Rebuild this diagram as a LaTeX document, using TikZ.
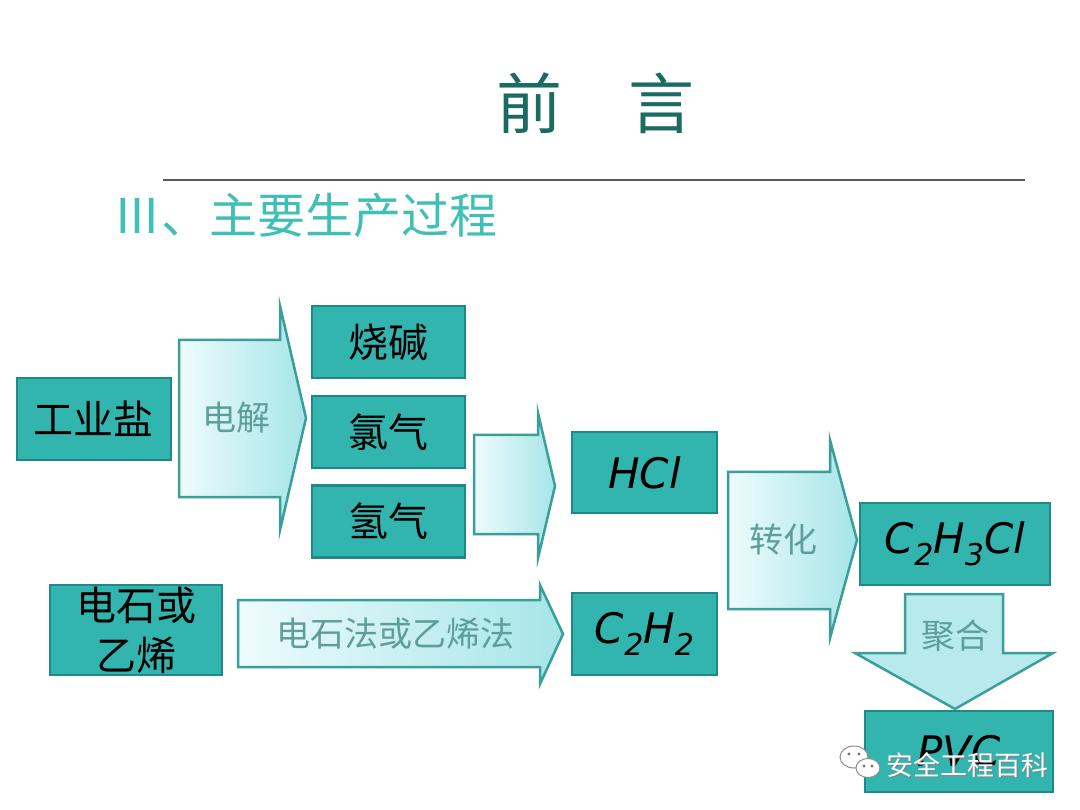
\documentclass[tikz,border=0pt]{standalone}
\usepackage{fontspec}
\newfontfamily\cjk{Noto Sans CJK SC}
\newfontfamily\formula{DejaVu Sans}
\definecolor{boxfill}{HTML}{33B5AF}
\definecolor{boxline}{HTML}{1F8A85}
\definecolor{flowline}{HTML}{3A9E99}
\definecolor{flowlight}{HTML}{EEFBFC}
\definecolor{flowdark}{HTML}{A6E5E8}
\definecolor{titlecol}{HTML}{1B6B62}
\definecolor{subcol}{HTML}{40BFB6}
\definecolor{labelcol}{HTML}{5E9E9A}
\def\sub#1{\raisebox{-0.28em}{\fontsize{30}{30}\selectfont #1}}
\tikzset{
	box/.style={draw=boxline,fill=boxfill,line width=2.5pt,inner sep=0pt,
		font=\cjk\fontsize{40}{50}\selectfont,align=center},
	chem/.style={box,font=\formula\itshape\fontsize{42}{42}\selectfont},
	flow/.style={draw=flowline,line width=2.5pt,line join=miter,
		left color=flowlight,right color=flowdark},
	flowdown/.style={draw=flowline,line width=2.5pt,line join=miter,
		left color=flowdark!80,middle color=flowlight,right color=flowdark!80},
	flowlabel/.style={text=labelcol,font=\cjk\fontsize{34}{34}\selectfont,inner sep=0pt},
	wmark/.style={text=white,font=\cjk\fontsize{27}{27}\selectfont,inner sep=0pt},
}
\begin{document}
\begin{tikzpicture}[x=1pt,y=-1pt]
\fill[white] (0,0) rectangle (1080,810);
\useasboundingbox (0,0) rectangle (1080,810);

% heading
\node (title) at (595,103) [text=titlecol,font=\cjk\fontsize{66}{66}\selectfont] {前　言};
\coordinate (rulel) at (163,180);
\coordinate (ruler) at (1025,180);
\draw[line width=2pt,black!65] (rulel) -- (ruler);
\node (sub) at (113,215) [anchor=west,inner sep=0pt,text=subcol,font=\cjk\fontsize{48}{48}\selectfont] {Ⅲ、主要生产过程};

% block arrows
\draw[flow] (179,340) -- (280,340) -- (280,306) -- (306,418) -- (280,530) -- (280,497) -- (179,497) -- cycle;
\draw[flow] (474,435) -- (538,435) -- (538,413) -- (555,486) -- (538,558) -- (538,534) -- (474,534) -- cycle;
\draw[flow] (238,600) -- (540,600) -- (540,585) -- (563,634) -- (540,684) -- (540,667) -- (238,667) -- cycle;
\draw[flow] (728,472) -- (830,472) -- (830,440) -- (857,540) -- (830,638) -- (830,609) -- (728,609) -- cycle;
\draw[flowdown] (905,594) -- (1003,594) -- (1003,653) -- (1053,653) -- (955,709) -- (855,653) -- (905,653) -- cycle;

\node (dianjie) at (236,418) [flowlabel] {电解};
\node (fa) at (395,634) [flowlabel] {电石法或乙烯法};
\node (zhuanhua) at (783,540) [flowlabel] {转化};
\node (juhe) at (955,636) [flowlabel] {聚合};

% boxes
\node (salt) at (94,419) [box,minimum width=154,minimum height=82] {工业盐};
\foreach \name/\y/\txt in {jian/342/烧碱,lvqi/432/氯气,qingqi/521.5/氢气}
	\node (\name) at (388.5,\y) [box,minimum width=153,minimum height=72] {\txt};
\node (dianshi) at (136,630) [box,minimum width=172,minimum height=90] {电石或\\乙烯};
\node (hcl) at (644.5,472.5) [chem,minimum width=145,minimum height=81] {HCl};
\node (cch) at (644.5,634) [chem,minimum width=145,minimum height=82] {C\sub{2}H\sub{2}};
\node (vcm) at (955,544) [chem,minimum width=190,minimum height=82] {C\sub{2}H\sub{3}Cl};
\node (pvc) at (959,751.5) [chem,minimum width=188,minimum height=81] {PVC};

% watermark
\draw[black!45,fill=white,line width=1pt] (854,757) ellipse (14 and 11);
\draw[black!45,fill=white,line width=1pt] (868,768) ellipse (12 and 9.5);
\foreach \x/\y in {849/754,859/754,864/766,872/766}
	\fill[black!55] (\x,\y) circle (1.6);
\node (wshadow) at (886,765) [wmark,anchor=west,text=black!50,xshift=1.5,yshift=-1.5] {安全工程百科};
\node (wtext) at (886,765) [wmark,anchor=west] {安全工程百科};
\end{tikzpicture}
\end{document}
